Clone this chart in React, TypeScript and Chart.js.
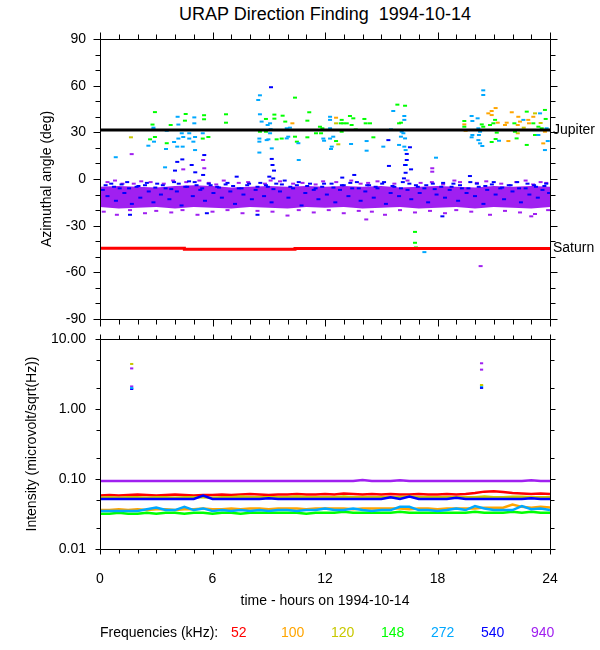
import { useEffect, useRef } from "react";
import { Chart, registerables } from "chart.js";
Chart.register(...registerables);

const FONT = "'Liberation Sans', Arial, Helvetica, sans-serif";

// ---------- shared ----------
const freqLabels = ["52", "100", "120", "148", "272", "540", "940"];
const freqColors = ["#ff0000", "#ffa500", "#c8c800", "#00ff00", "#00a8ff", "#0000ff", "#a020f0"];
const hourTicks = [0, 1, 2, 3, 4, 5, 6, 7, 8, 9, 10, 11, 12, 13, 14, 15, 16, 17, 18, 19, 20, 21, 22, 23, 24];
const hourLabels = [0, 6, 12, 18, 24];

// ---------- top panel: azimuthal angle ----------
const angleTicks = [-90, -60, -30, 0, 30, 60, 90];
const angleMinor = [-80, -70, -50, -40, -20, -10, 10, 20, 40, 50, 70, 80];

const jupiterHours = [0, 24];
const jupiterAngle = [31.5, 31.5];
const saturnHours = [0, 4.5, 4.5, 10.4, 10.4, 24];
const saturnAngle = [-44.5, -44.5, -45.2, -45.2, -44.6, -44.6];

const bandHours = [0, 1, 2, 3, 4, 5, 6, 7, 8, 9, 10, 11, 12, 13, 14, 15, 16, 17, 18, 19, 20, 21, 22, 23, 24];
const bandUpper = [-5, -4.5, -5, -5.5, -4.5, -4, -4.5, -5.5, -5, -4.5, -5, -4.5, -5, -4.5, -5, -4.5, -5.5, -5, -4.5, -5, -5.5, -4.5, -5, -4.5, -5];
const bandLower = [-18, -19, -18.5, -18, -19, -18, -18.5, -19, -18, -18.5, -19, -18, -18.5, -18, -19, -18.5, -18, -19, -18.5, -18, -19, -18, -18.5, -19, -18];

const pts100: [number, number][] = [
  [10.26, 35.8], [12.59, 39.4], [19.43, 35.1], [20.71, 42.2], [20.89, 43.7], [21.1, 45.6], [20.89, 41.1],
  [21.21, 36.2], [21.6, 34.7], [21.69, 36.2], [21.78, 24.4], [21.96, 42.9], [22.31, 40], [22.28, 34.7],
  [22.31, 31.5], [22.4, 36.9], [22.84, 38], [22.88, 35.8], [23.11, 40], [23.64, 22.9], [23.73, 30.4], [19.5, 31],
];
const pts120: [number, number][] = [
  [1.65, 26.8], [12.59, 35.8], [12.71, 22.3], [14.4, 31.5], [22.28, 29.4], [23.2, 42.2], [22.6, 33], [23.5, 36],
];
const pts148: [number, number][] = [
  [2.93, 43], [2.8, 35], [2.93, 27], [2.67, 25.5], [3.56, 23], [3.77, 34.7], [4.57, 41.8], [4.53, 37.5],
  [5.55, 41], [5.55, 38.4], [5.48, 26], [5.78, 27], [6.72, 41.6], [6.72, 36.2], [6.72, 31.5], [10.4, 52.3],
  [11.16, 42.9], [8.85, 38.6], [9.3, 41.4], [9.3, 38.8], [9.74, 40.7], [9.88, 36.9], [8.53, 30.4], [8.85, 30.4],
  [9.69, 26], [9.42, 25.5], [10.4, 27.2], [10.5, 24], [11.06, 37.5], [11.52, 29.4], [11.73, 33.6], [11.86, 32.6],
  [11.79, 29.4], [11.06, 26.8], [12.89, 38], [12.84, 35.8], [12.98, 35.8], [13.16, 35.8], [13.33, 40.5],
  [13.51, 39], [13.07, 31.5], [12.89, 30.4], [12.8, 31.5], [13.42, 34.7], [13.64, 31.9], [12.59, 24.4],
  [14.1, 38.6], [14.4, 35.8], [14.17, 35.8], [14.58, 26.8], [15.86, 47.8], [16.27, 47.1], [15.95, 35.8],
  [16.05, 36.2], [19.43, 37.3], [19.43, 33.6], [20.36, 35.1], [20.44, 33.6], [20.8, 34.7], [20.89, 31.5],
  [21.07, 38], [20.98, 35.8], [21.16, 29.8], [20.89, 23.8], [21.1, 25.7], [22.1, 35.8], [22.13, 30.4],
  [22.22, 26.1], [22.76, 43.3], [23.11, 35.8], [23.2, 28.3], [23.56, 32.6], [23.77, 38.6], [23.73, 44.4],
  [22.76, 21.9], [23.38, 33.6], [16.8, -34], [16.8, -41], [16.85, -44],
];
const pts272: [number, number][] = [
  [0.84, 14], [2.85, 33], [2.85, 32], [2.88, 24], [2.58, 21.4], [3.52, 19.3], [3.56, 31], [4.14, 40],
  [4.18, 35], [4.27, 31.5], [4.36, 29.4], [4.18, 26], [4.44, 27], [4.12, 20.8], [4.41, 20.8], [3.95, 23.8],
  [4.76, 29.4], [4.76, 26], [5.03, 39.6], [5.03, 35.8], [5.07, 31.5], [5.07, 27], [4.98, 24], [5.4, 31.5],
  [5.48, 29.4], [5.07, 18.6], [3.47, 7.5], [8.53, 53.8], [8.44, 50.8], [8.53, 41.6], [8.62, 36.9],
  [8.94, 34.7], [9.07, 35.8], [9.1, 32], [9.07, 29.4], [8.5, 26], [8.5, 24], [8.98, 25.5], [8.89, 25],
  [8.5, 17], [9.16, 19.7], [9.96, 32.6], [10.13, 33], [10.04, 27.2], [9.96, 26.1], [10.58, 23], [10.6, 12.2],
  [11.91, 26], [11.95, 24.6], [12.27, 40], [12.27, 38], [12.27, 32.6], [12.3, 31.5], [12.27, 26],
  [12.44, 27.2], [12.36, 20.8], [12.32, 19.3], [13.39, 22.5], [14.22, 24.4], [14.22, 18.2], [15.11, 20.8],
  [15.64, 43.7], [16.23, 40.5], [16.23, 38], [15.52, 31.9], [16.09, 30.4], [16.05, 27.2], [16.27, 26.1],
  [16.18, 29.4], [15.95, 21.9], [16.23, 20.8], [16.3, 18.6], [16.32, 9], [17.92, 13.7], [20.44, 57],
  [20.44, 54], [19.82, 40.5], [20.14, 39], [19.86, 37.3], [20.18, 32.6], [20.27, 30.4], [20.21, 28.3],
  [19.86, 28.3], [19.82, 26.8], [20.18, 25], [20.27, 22.9], [20.39, 21.2], [21.28, 24.6], [23.47, 42.2],
  [23.38, 28.3], [23.73, 18.6], [23.88, 24.4], [23.82, 32.6], [22.58, 38], [17.3, -47],
];
const pts540: [number, number][] = [
  [5.56, 15.4], [4.39, 12.6], [4.12, 11], [4, 5.4], [4.89, 9], [5.08, 4.3], [5.5, 2.6], [7.29, 1.5],
  [9.12, 59], [9.16, 12.9], [9.2, 9], [9.28, 5.4], [9.03, 1.5], [9.24, 0.4], [16.53, 20.4], [16.36, 16.1],
  [16.36, 12.2], [16.27, 9], [16.3, 4], [15.38, 25], [15.41, 8.4], [16.59, 6.2], [16.21, 0.4], [13.56, 2.6],
  [12.92, 0.9], [19.73, 1.9], [1.6, -23], [5.7, -22], [8.4, -23], [18.26, -24],
  [0.15, -7], [0.4, -11], [0.6, -3], [0.85, -14], [1.05, -6], [1.3, -9], [1.45, -2], [1.7, -16], [1.95, -5],
  [2.15, -12], [2.4, -4], [2.6, -8], [2.85, -15], [3.05, -3], [3.25, -10], [3.5, -6], [3.7, -13], [3.95, -2],
  [4.1, -8], [4.35, -17], [4.55, -5], [4.75, -1.5], [4.95, -11], [5.15, -4], [5.35, -7], [5.6, -14], [5.8, -3],
  [6.05, -9], [6.25, -5], [6.5, -12], [6.7, -3.5], [6.95, -8], [7.2, -16], [7.4, -6], [7.65, -10], [7.85, -4],
  [8.1, -13], [8.3, -7], [8.55, -2.5], [8.75, -11], [8.95, -5], [9.15, -15], [9.4, -3], [9.6, -8], [9.85, -1],
  [10.05, -12], [10.3, -6], [10.5, -4], [10.75, -17], [10.95, -9], [11.2, -3], [11.4, -7], [11.65, -13],
  [11.85, -5], [12.1, -10], [12.35, -3], [12.55, -15], [12.8, -7], [13.0, -4], [13.25, -11], [13.45, -6],
  [13.7, -2], [13.9, -14], [14.15, -8], [14.35, -4], [14.6, -12], [14.8, -6], [15.05, -3], [15.25, -16],
  [15.5, -9], [15.7, -5], [15.95, -11], [16.15, -2], [16.4, -7], [16.6, -13], [16.85, -4], [17.05, -9],
  [17.3, -6], [17.5, -15], [17.75, -3], [17.95, -10], [18.2, -5], [18.4, -12], [18.65, -7], [18.85, -3],
  [19.1, -14], [19.3, -6], [19.55, -9], [19.75, -2], [20.0, -11], [20.2, -5], [20.45, -16], [20.65, -7],
  [20.9, -3.5], [21.1, -10], [21.35, -6], [21.55, -13], [21.8, -4], [22.0, -8], [22.25, -2], [22.45, -15],
  [22.7, -6], [22.9, -10], [23.15, -4], [23.35, -12], [23.6, -7], [23.8, -3], [23.95, -9],
  [0.3, -4], [0.75, -5], [1.15, -3.5], [1.55, -6], [2.05, -4.5], [2.5, -2.5], [2.95, -5.5], [3.35, -4],
  [3.8, -6.5], [4.2, -3], [4.65, -5], [5.05, -2], [5.45, -6], [5.9, -4], [6.35, -5.5], [6.8, -2.5], [7.1, -4.5],
  [7.55, -6], [7.95, -3], [8.4, -5], [8.85, -4], [9.25, -6.5], [9.7, -3.5], [10.15, -5], [10.6, -2], [11.05, -4.5],
  [11.5, -6], [11.95, -3], [12.45, -5.5], [12.9, -4], [13.35, -2.5], [13.8, -6], [14.25, -4], [14.7, -5],
  [15.15, -2], [15.6, -4.5], [16.05, -6], [16.5, -3], [16.95, -5], [17.4, -4], [17.85, -6.5], [18.3, -2.5],
  [18.75, -5], [19.2, -4], [19.65, -6], [20.1, -3], [20.55, -4.5], [21.0, -2], [21.45, -5.5], [21.9, -4],
  [22.35, -6], [22.8, -3], [23.25, -5], [23.7, -4.5],
];
const pts940: [number, number][] = [
  [1.69, 16], [4.44, 6.2], [5.5, 12.2], [5.56, 6.9], [17.72, 6.9], [17.72, 4.7], [20.3, -56],
  [0.4, -2], [1.2, -3], [2.2, -1.5], [3.4, -3], [4.6, -2], [5.3, -1], [6.2, -3.5], [7.4, -2.5], [8.8, -3],
  [9.6, -1.5], [10.8, -2.5], [11.5, -3.5], [12.6, -2], [13.9, -3], [14.8, -1.5], [15.7, -3], [17.1, -2.5],
  [18.3, -3.5], [19.2, -2], [20.6, -1.5], [21.4, -3], [22.2, -2], [23.1, -3.5], [23.8, -2.5],
  [0.8, -1], [1.8, -3], [2.7, -2], [3.9, -1], [5.8, -2.5], [6.6, -1], [7.9, -2], [9.1, -1], [10.3, -3],
  [11.9, -1.5], [13.4, -1], [14.3, -2.5], [16.4, -1], [17.7, -2], [18.9, -1], [20.1, -2.5], [22.7, -1], [23.5, -2],
  [0.2, -21], [0.9, -23], [1.6, -20], [2.4, -22], [3.0, -20.5], [3.8, -21.5], [4.4, -20], [5.2, -23],
  [6.0, -21], [6.8, -20], [7.6, -22], [8.4, -20.5], [9.2, -21], [10.0, -23.5], [10.6, -20], [11.4, -21.5],
  [12.2, -20], [13.0, -22], [13.8, -20.5], [14.5, -21], [15.2, -23], [16.0, -20], [16.8, -21.5],
  [17.6, -20.5], [18.4, -22], [19.0, -20], [19.8, -21], [20.8, -23], [21.6, -20.5], [22.4, -21.5],
  [23.2, -22.5], [23.9, -20], [14.2, -26], [23.0, -24],
];

// ---------- bottom panel: intensity ----------
const intensityTicks = [0.01, 0.1, 1, 10];
const intensityMinor = [0.02, 0.05, 0.2, 0.5, 2, 5];
const intensityHours = [0, 0.5, 1, 1.5, 2, 2.5, 3, 3.5, 4, 4.5, 5, 5.5, 6, 6.5, 7, 7.5, 8, 8.5, 9, 9.5, 10, 10.5, 11, 11.5, 12, 12.5, 13, 13.5, 14, 14.5, 15, 15.5, 16, 16.5, 17, 17.5, 18, 18.5, 19, 19.5, 20, 20.5, 21, 21.5, 22, 22.5, 23, 23.5, 24];
const int52 = [0.058, 0.059, 0.058, 0.059, 0.060, 0.059, 0.058, 0.059, 0.060, 0.059, 0.058, 0.059, 0.059, 0.060, 0.059, 0.060, 0.061, 0.060, 0.059, 0.060, 0.060, 0.061, 0.060, 0.060, 0.061, 0.060, 0.062, 0.061, 0.060, 0.061, 0.060, 0.061, 0.060, 0.060, 0.061, 0.060, 0.060, 0.061, 0.060, 0.061, 0.063, 0.066, 0.067, 0.065, 0.063, 0.062, 0.061, 0.062, 0.061];
const int100 = [0.036, 0.036, 0.037, 0.036, 0.037, 0.036, 0.037, 0.037, 0.036, 0.037, 0.037, 0.038, 0.037, 0.037, 0.038, 0.037, 0.038, 0.038, 0.037, 0.038, 0.038, 0.038, 0.037, 0.038, 0.038, 0.038, 0.038, 0.037, 0.038, 0.038, 0.038, 0.038, 0.038, 0.037, 0.038, 0.038, 0.037, 0.038, 0.038, 0.038, 0.038, 0.039, 0.039, 0.039, 0.043, 0.040, 0.039, 0.040, 0.039];
const int120 = [0.054, 0.055, 0.054, 0.055, 0.055, 0.054, 0.055, 0.055, 0.054, 0.055, 0.055, 0.055, 0.054, 0.055, 0.055, 0.056, 0.055, 0.055, 0.055, 0.055, 0.055, 0.056, 0.055, 0.055, 0.055, 0.055, 0.056, 0.055, 0.055, 0.055, 0.055, 0.055, 0.055, 0.056, 0.055, 0.055, 0.055, 0.055, 0.055, 0.055, 0.055, 0.056, 0.055, 0.055, 0.056, 0.056, 0.055, 0.055, 0.055];
const int148 = [0.032, 0.032, 0.033, 0.032, 0.032, 0.033, 0.032, 0.033, 0.033, 0.032, 0.033, 0.033, 0.032, 0.033, 0.033, 0.032, 0.033, 0.033, 0.033, 0.033, 0.033, 0.033, 0.032, 0.033, 0.033, 0.033, 0.034, 0.033, 0.033, 0.033, 0.033, 0.033, 0.034, 0.033, 0.033, 0.033, 0.033, 0.033, 0.033, 0.033, 0.034, 0.033, 0.033, 0.033, 0.034, 0.033, 0.034, 0.033, 0.033];
const int272 = [0.035, 0.035, 0.035, 0.035, 0.035, 0.037, 0.039, 0.036, 0.036, 0.040, 0.036, 0.038, 0.035, 0.036, 0.035, 0.036, 0.035, 0.036, 0.035, 0.036, 0.036, 0.035, 0.036, 0.036, 0.038, 0.036, 0.036, 0.038, 0.036, 0.035, 0.036, 0.036, 0.040, 0.040, 0.036, 0.036, 0.035, 0.036, 0.038, 0.036, 0.041, 0.038, 0.036, 0.036, 0.036, 0.041, 0.037, 0.038, 0.036];
const int540 = [0.052, 0.052, 0.052, 0.052, 0.052, 0.052, 0.052, 0.052, 0.052, 0.052, 0.052, 0.058, 0.052, 0.052, 0.052, 0.052, 0.052, 0.052, 0.053, 0.052, 0.052, 0.052, 0.052, 0.052, 0.052, 0.052, 0.052, 0.052, 0.052, 0.052, 0.052, 0.055, 0.052, 0.056, 0.052, 0.052, 0.052, 0.052, 0.054, 0.052, 0.052, 0.052, 0.052, 0.052, 0.052, 0.052, 0.053, 0.052, 0.052];
const int940 = [0.094, 0.094, 0.094, 0.094, 0.094, 0.094, 0.094, 0.094, 0.094, 0.094, 0.094, 0.094, 0.094, 0.094, 0.094, 0.094, 0.094, 0.094, 0.094, 0.094, 0.094, 0.094, 0.094, 0.094, 0.094, 0.094, 0.094, 0.094, 0.097, 0.094, 0.094, 0.094, 0.096, 0.094, 0.094, 0.094, 0.094, 0.094, 0.094, 0.094, 0.094, 0.094, 0.094, 0.094, 0.094, 0.094, 0.096, 0.094, 0.094];
const spikes120: [number, number][] = [[1.69, 4.4], [20.35, 2.2]];
const spikes272: [number, number][] = [[1.69, 2.0], [20.35, 2.12]];
const spikes540: [number, number][] = [[1.69, 1.93], [20.35, 2.0]];
const spikes940: [number, number][] = [[1.69, 3.8], [1.69, 2.1], [20.35, 4.5], [20.35, 3.65]];

// ---------- helpers ----------
const xy = (p: [number, number][]) => p.map(([x, y]) => ({ x, y }));
const zip = (xs: number[], ys: number[]) => xs.map((x, i) => ({ x, y: ys[i] }));

const pointSet = (p: [number, number][], color: string, order: number, r = 2) => ({
  data: xy(p),
  showLine: false,
  pointStyle: "line",
  pointRadius: r,
  pointBorderWidth: 2,
  pointBorderColor: color,
  pointBackgroundColor: color,
  borderColor: color,
  order,
});

const lineSet = (data: { x: number; y: number }[], color: string, width: number, order: number) => ({
  data,
  showLine: true,
  borderColor: color,
  borderWidth: width,
  pointRadius: 0,
  tension: 0,
  fill: false,
  order,
});

function axesPlugin(yMajor: number[], yMinor: number[], majorLen: number, minorLen: number) {
  return {
    id: "frameTicks",
    afterDraw(chart: any) {
      const { ctx, chartArea: a } = chart;
      const xs = chart.scales.x;
      const ys = chart.scales.y;
      const L = Math.round(a.left) + 0.5;
      const R = Math.round(a.right) + 0.5;
      const T = Math.round(a.top) + 0.5;
      const B = Math.round(a.bottom) + 0.5;
      ctx.save();
      ctx.strokeStyle = "#000";
      ctx.lineWidth = 1;
      ctx.beginPath();
      ctx.rect(L, T, R - L, B - T);
      hourTicks.forEach((h) => {
        const len = hourLabels.includes(h) ? majorLen : minorLen;
        const px = Math.round(xs.getPixelForValue(h)) + 0.5;
        ctx.moveTo(px, T);
        ctx.lineTo(px, T - len);
        ctx.moveTo(px, B);
        ctx.lineTo(px, B + len);
      });
      const yt = (v: number, len: number) => {
        const py = Math.round(ys.getPixelForValue(v)) + 0.5;
        ctx.moveTo(L, py);
        ctx.lineTo(L - len, py);
        ctx.moveTo(R, py);
        ctx.lineTo(R + len, py);
      };
      yMajor.forEach((v) => yt(v, majorLen));
      yMinor.forEach((v) => yt(v, minorLen));
      ctx.stroke();
      ctx.restore();
    },
  };
}

const planetLabels = {
  id: "planetLabels",
  afterDraw(chart: any) {
    const { ctx, chartArea: a } = chart;
    const ys = chart.scales.y;
    ctx.save();
    ctx.fillStyle = "#000";
    ctx.font = `14px ${FONT}`;
    ctx.textBaseline = "middle";
    ctx.textAlign = "left";
    ctx.fillText("Jupiter", a.right + 3, ys.getPixelForValue(jupiterAngle[jupiterAngle.length - 1]));
    ctx.fillText("Saturn", a.right + 3, ys.getPixelForValue(saturnAngle[saturnAngle.length - 1]));
    ctx.restore();
  },
};

export default function App() {
  const topRef = useRef<HTMLCanvasElement>(null);
  const botRef = useRef<HTMLCanvasElement>(null);

  useEffect(() => {
    Chart.defaults.font.family = FONT;
    Chart.defaults.color = "#000";
    const tickFont = { family: FONT, size: 14 };

    const top = new Chart(topRef.current!, {
      type: "line",
      data: {
        datasets: [
          {
            data: zip(bandHours, bandUpper),
            borderWidth: 0,
            borderColor: "rgba(0,0,0,0)",
            pointRadius: 0,
            fill: "+1",
            backgroundColor: freqColors[6],
            order: 20,
          },
          {
            data: zip(bandHours, bandLower),
            borderWidth: 0,
            borderColor: "rgba(0,0,0,0)",
            pointRadius: 0,
            fill: false,
            order: 20,
          },
          pointSet(pts100, freqColors[1], 7),
          pointSet(pts120, freqColors[2], 6),
          pointSet(pts148, freqColors[3], 5),
          pointSet(pts272, freqColors[4], 4),
          pointSet(pts940, freqColors[6], 3),
          pointSet(pts540, freqColors[5], 2),
          lineSet(zip(jupiterHours, jupiterAngle), "#000", 3, 0),
          lineSet(zip(saturnHours, saturnAngle), "#ff0000", 3, 0),
        ] as any,
      },
      options: {
        animation: false,
        responsive: false,
        events: [],
        layout: { padding: { left: 0, right: 50, top: 39, bottom: 331 } },
        plugins: { legend: { display: false }, tooltip: { enabled: false }, title: { display: false } },
        scales: {
          x: { type: "linear", min: 0, max: 24, display: false },
          y: {
            type: "linear",
            min: -90,
            max: 90,
            afterFit: (s: any) => {
              s.width = 100;
            },
            afterBuildTicks: (s: any) => {
              s.ticks = angleTicks.map((v) => ({ value: v }));
            },
            grid: { display: false, drawTicks: false },
            border: { display: false },
            ticks: { padding: 14, color: "#000", font: tickFont, autoSkip: false, callback: (v: any) => String(v) },
            title: {
              display: true,
              text: "Azimuthal angle (deg)",
              color: "#000",
              font: tickFont,
              padding: { top: 38.6, bottom: 0 },
            },
          },
        },
      } as any,
      plugins: [axesPlugin(angleTicks, angleMinor, 7, 5), planetLabels],
    });

    const bottom = new Chart(botRef.current!, {
      type: "line",
      data: {
        datasets: [
          lineSet(zip(intensityHours, int52), freqColors[0], 2.5, 7),
          lineSet(zip(intensityHours, int100), freqColors[1], 2.5, 6),
          lineSet(zip(intensityHours, int120), freqColors[2], 2.5, 5),
          lineSet(zip(intensityHours, int148), freqColors[3], 2.5, 4),
          lineSet(zip(intensityHours, int272), freqColors[4], 2.5, 3),
          lineSet(zip(intensityHours, int540), freqColors[5], 2.5, 2),
          lineSet(zip(intensityHours, int940), freqColors[6], 2.5, 1),
          pointSet(spikes120, freqColors[2], 0, 1.6),
          pointSet(spikes272, freqColors[4], 0, 1.6),
          pointSet(spikes540, freqColors[5], 0, 1.6),
          pointSet(spikes940, freqColors[6], 0, 1.6),
        ] as any,
      },
      options: {
        animation: false,
        responsive: false,
        events: [],
        layout: { padding: { left: 0, right: 50, top: 339, bottom: 0 } },
        plugins: { legend: { display: false }, tooltip: { enabled: false }, title: { display: false } },
        scales: {
          x: {
            type: "linear",
            min: 0,
            max: 24,
            afterFit: (s: any) => {
              s.height = 101;
            },
            afterBuildTicks: (s: any) => {
              s.ticks = hourLabels.map((v) => ({ value: v }));
            },
            grid: { display: false, drawTicks: false },
            border: { display: false },
            ticks: { padding: 22, color: "#000", font: tickFont, autoSkip: false, maxRotation: 0, callback: (v: any) => String(v) },
            title: {
              display: true,
              text: "time - hours on 1994-10-14",
              color: "#000",
              font: tickFont,
              padding: { top: 0, bottom: 40.6 },
            },
          },
          y: {
            type: "logarithmic",
            min: 0.01,
            max: 10,
            afterFit: (s: any) => {
              s.width = 100;
            },
            afterBuildTicks: (s: any) => {
              s.ticks = intensityTicks.map((v) => ({ value: v }));
            },
            grid: { display: false, drawTicks: false },
            border: { display: false },
            ticks: { padding: 14, color: "#000", font: tickFont, autoSkip: false, callback: (v: any) => Number(v).toFixed(2) },
            title: {
              display: true,
              text: "Intensity (microvolt/sqrt(Hz))",
              color: "#000",
              font: tickFont,
              padding: { top: 23.6, bottom: 0 },
            },
          },
        },
      } as any,
      plugins: [axesPlugin(intensityTicks, intensityMinor, 5, 4)],
    });

    return () => {
      top.destroy();
      bottom.destroy();
    };
  }, []);

  const abs: React.CSSProperties = { position: "absolute", left: 0, top: 0 };
  return (
    <div style={{ ...abs, width: 600, height: 650, background: "#fff", fontFamily: FONT, color: "#000" }}>
      <div
        style={{
          position: "absolute",
          left: 0,
          width: 650,
          top: 4,
          textAlign: "center",
          fontSize: 18,
          lineHeight: "20px",
          whiteSpace: "pre",
        }}
      >
        {"URAP Direction Finding  1994-10-14"}
      </div>
      <canvas ref={topRef} width={600} height={650} style={abs} />
      <canvas ref={botRef} width={600} height={650} style={abs} />
      <div style={{ position: "absolute", left: 100, top: 624, fontSize: 14, lineHeight: "16px", whiteSpace: "pre" }}>
        Frequencies (kHz):
      </div>
      {freqLabels.map((f, i) => (
        <div
          key={f}
          style={{
            position: "absolute",
            left: 231 + i * 50,
            top: 624,
            fontSize: 14,
            lineHeight: "16px",
            color: freqColors[i],
          }}
        >
          {f}
        </div>
      ))}
    </div>
  );
}
